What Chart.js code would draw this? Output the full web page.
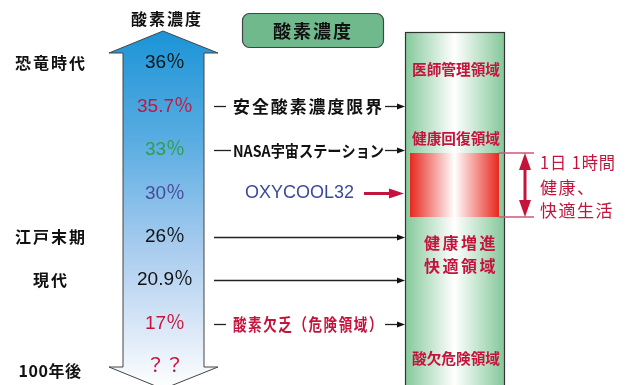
<!DOCTYPE html>
<html><head><meta charset="utf-8">
<style>html,body{margin:0;padding:0;background:#fff}#wrap{width:630px;height:385px}</style>
<script src="https://cdn.jsdelivr.net/npm/chart.js@4"></script>
</head><body><div id="wrap"><canvas id="c" width="630" height="385"></canvas></div>
<script>
// ---- data ----
const rowLabels = ['36%','35.7%','33%','30%','26%','20.9%','17%','??'];
const oxygenLevels = [36, 35.7, 33, 30, 26, 20.9, 17, null];
const levelText = ['36％','35.7％','33％','30％','26％','20.9％','17％','？？'];
const levelColors = ['#111111','#c8143c','#2e9e4c','#4a4a9c','#111111','#111111','#c8143c','#c8143c'];
const eras = ['恐竜時代','','','','江戸末期','現代','','100年後'];
const pointerLabels = ['', '安全酸素濃度限界', 'NASA宇宙ステーション', 'OXYCOOL32', '', '', '酸素欠乏（危険領域）', ''];
const zoneLabels = ['医師管理領域','健康回復領域','健康増進','快適領域','酸欠危険領域'];
const bracketLines = ['1日 1時間','健康、','快適生活'];
const axisTitle = '酸素濃度';

const JP = '"Noto Sans CJK JP","Noto Sans CJK SC",sans-serif';
const LAT = '"Liberation Sans","Noto Sans CJK JP",sans-serif';
const RED = '#c4143c';

function txt(ctx, s, x, y, font, color, align, maxW, ls){
  ctx.save(); ctx.font = font; ctx.fillStyle = color; ctx.textAlign = align || 'center';
  ctx.textBaseline = 'middle'; if (ls) ctx.letterSpacing = ls + 'px';
  if (maxW) ctx.fillText(s, x, y, maxW); else ctx.fillText(s, x, y);
  ctx.restore();
}
function head(ctx, tipX, y, len, half, color){
  ctx.beginPath(); ctx.moveTo(tipX, y); ctx.lineTo(tipX - len, y - half); ctx.lineTo(tipX - len, y + half);
  ctx.closePath(); ctx.fillStyle = color; ctx.fill();
}

const infographic = {
  id: 'infographic',
  afterDraw(chart){
    const ctx = chart.ctx, ys = chart.scales.y;
    const rowY = i => ys.getPixelForValue(i);
    ctx.save();
    // title above arrow
    txt(ctx, axisTitle, 167, 19, 'bold 16px ' + JP, '#111', 'center', null, 2);
    // big blue double arrow
    const g = ctx.createLinearGradient(0, 31, 0, 389);
    g.addColorStop(0, '#1b94d6'); g.addColorStop(0.3, '#58ace2'); g.addColorStop(0.6, '#a6cbee');
    g.addColorStop(0.85, '#deeaf8'); g.addColorStop(1, '#ffffff');
    ctx.beginPath();
    ctx.moveTo(163, 31); ctx.lineTo(218, 53); ctx.lineTo(204, 53); ctx.lineTo(204, 367);
    ctx.lineTo(218, 367); ctx.lineTo(163, 389); ctx.lineTo(109, 367); ctx.lineTo(123, 367);
    ctx.lineTo(123, 53); ctx.lineTo(109, 53); ctx.closePath();
    ctx.fillStyle = g; ctx.fill(); ctx.lineWidth = 1; ctx.strokeStyle = '#444'; ctx.stroke();
    // level values and eras
    levelText.forEach((s, i) => {
      txt(ctx, s, 165, rowY(i), '19px ' + LAT, levelColors[i], 'center');
      if (eras[i]) {
        const latin = /^[0-9]/.test(eras[i]);
        txt(ctx, eras[i], latin ? 50 : 51, rowY(i) + (latin ? 4 : 0), 'bold 16px ' + JP, '#111', 'center', null, latin ? 0.5 : 2);
      }
    });
    // green title box
    ctx.beginPath(); ctx.roundRect(242.5, 13.5, 141, 34, 7);
    ctx.fillStyle = '#6fb98c'; ctx.fill(); ctx.lineWidth = 1.2; ctx.strokeStyle = '#444'; ctx.stroke();
    txt(ctx, axisTitle, 313, 31, 'bold 18px ' + JP, '#111', 'center', null, 2);
    // green column
    const gg = ctx.createLinearGradient(405, 0, 504, 0);
    gg.addColorStop(0, '#84c89a'); gg.addColorStop(0.5, '#ffffff'); gg.addColorStop(1, '#84c89a');
    ctx.fillStyle = gg; ctx.fillRect(405, 32, 99, 360);
    ctx.lineWidth = 1.2; ctx.strokeStyle = '#333'; ctx.strokeRect(405.5, 32.5, 99, 360);
    // red band
    const rg = ctx.createLinearGradient(410, 0, 499, 0);
    rg.addColorStop(0, '#e8281e'); rg.addColorStop(0.5, '#ffffff'); rg.addColorStop(1, '#e8281e');
    ctx.fillStyle = rg; ctx.fillRect(410, 153, 89, 64);
    // zone labels
    txt(ctx, zoneLabels[0], 456, 69, 'bold 15px ' + JP, RED, 'center', 88);
    txt(ctx, zoneLabels[1], 456, 138, 'bold 15px ' + JP, RED, 'center', 88);
    txt(ctx, zoneLabels[2], 461, 243, 'bold 16px ' + JP, RED, 'center', null, 2.5);
    txt(ctx, zoneLabels[3], 461, 266, 'bold 16px ' + JP, RED, 'center', null, 2.5);
    txt(ctx, zoneLabels[4], 456, 358, 'bold 15px ' + JP, RED, 'center', 88);
    // pointers
    ctx.lineWidth = 1.3; ctx.strokeStyle = '#222';
    pointerLabels.forEach((s, i) => {
      if (i === 0 || i === 7) return;
      const y = Math.round(rowY(i)) + 0.5;
      if (s === 'OXYCOOL32') {
        txt(ctx, s, 245, y, '18px ' + LAT, '#3c4a9c', 'left', 112);
        ctx.save(); ctx.strokeStyle = RED; ctx.lineWidth = 3;
        ctx.beginPath(); ctx.moveTo(364, y); ctx.lineTo(392, y); ctx.stroke(); ctx.restore();
        head(ctx, 404, y, 15, 5, RED);
      } else if (s) {
        const isRed = i === 6;
        const nasa = s.startsWith('NASA');
        const lineEnd = nasa ? 231 : 226;
        ctx.beginPath(); ctx.moveTo(214, y); ctx.lineTo(lineEnd, y); ctx.stroke();
        txt(ctx, s, 233, y, (nasa ? 'bold 16px ' : 'bold 17px ') + JP,
            isRed ? RED : '#111', 'left', 151, nasa ? 0 : 2);
        ctx.beginPath(); ctx.moveTo(385, y); ctx.lineTo(398, y); ctx.stroke();
        head(ctx, 405, y, 8, 3, '#111');
      } else {
        ctx.beginPath(); ctx.moveTo(214, y); ctx.lineTo(398, y); ctx.stroke();
        head(ctx, 405, y, 8, 3, '#111');
      }
    });
    // bracket
    ctx.strokeStyle = '#d0587a'; ctx.lineWidth = 1.5;
    ctx.beginPath(); ctx.moveTo(499, 153); ctx.lineTo(534, 153); ctx.moveTo(499, 217); ctx.lineTo(534, 217); ctx.stroke();
    ctx.strokeStyle = RED; ctx.lineWidth = 3;
    ctx.beginPath(); ctx.moveTo(525, 165); ctx.lineTo(525, 205); ctx.stroke();
    ctx.fillStyle = RED;
    ctx.beginPath(); ctx.moveTo(525, 153); ctx.lineTo(531, 170); ctx.lineTo(519, 170); ctx.closePath(); ctx.fill();
    ctx.beginPath(); ctx.moveTo(525, 217); ctx.lineTo(531, 200); ctx.lineTo(519, 200); ctx.closePath(); ctx.fill();
    txt(ctx, bracketLines[0], 540, 163, '17px ' + JP, RED, 'left', 76, 1);
    txt(ctx, bracketLines[1], 540, 188, '17px ' + JP, RED, 'left', null, 1.5);
    txt(ctx, bracketLines[2], 540, 211, '17px ' + JP, RED, 'left', null, 1.5);
    ctx.restore();
  }
};

new Chart(document.getElementById('c'), {
  type: 'line',
  data: {
    labels: rowLabels,
    datasets: [{ label: '酸素濃度', data: oxygenLevels, showLine: false, pointRadius: 0, pointHoverRadius: 0 }]
  },
  options: {
    indexAxis: 'y',
    responsive: false, animation: false, devicePixelRatio: 1,
    layout: { padding: { top: 63, bottom: 18, left: 0, right: 0 } },
    plugins: { legend: { display: false }, tooltip: { enabled: false } },
    scales: {
      y: { type: 'category', display: false, offset: false },
      x: { type: 'linear', display: false, min: 0, max: 40 }
    }
  },
  plugins: [infographic]
});
</script>
</body></html>
